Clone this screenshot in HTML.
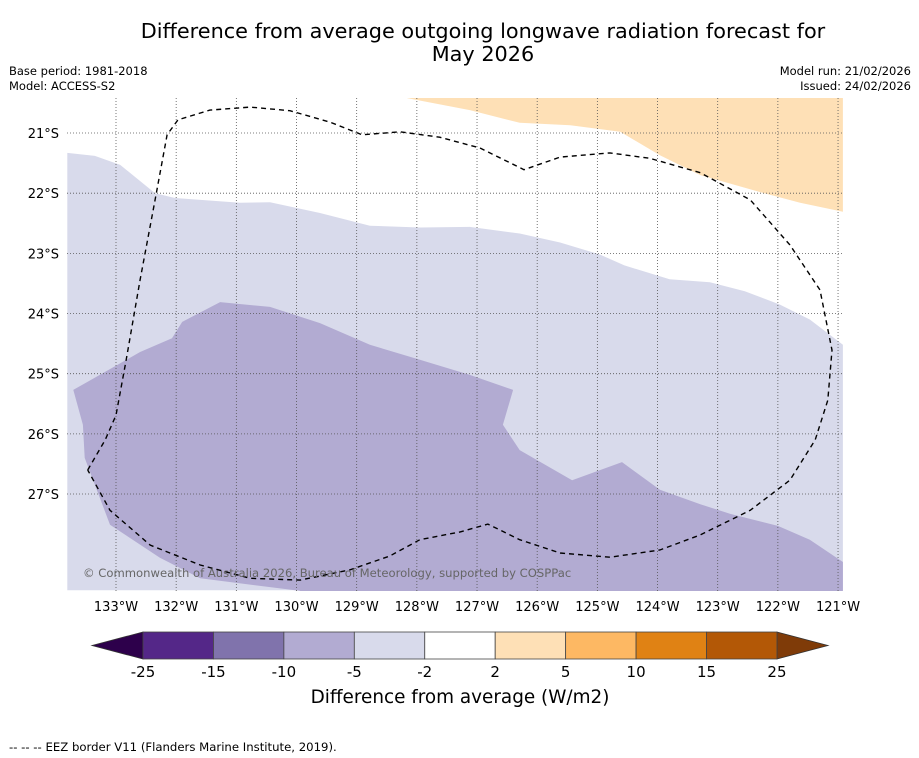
<!DOCTYPE html>
<html><head><meta charset="utf-8">
<style>
html,body{margin:0;padding:0;background:#fff;}
svg{display:block;font-family:"DejaVu Sans","Liberation Sans",sans-serif;}
</style></head>
<body>
<svg id="chart" width="919" height="758" viewBox="0 0 919 758" xmlns="http://www.w3.org/2000/svg">
<text x="483" y="38" font-size="20.8" text-anchor="middle">Difference from average outgoing longwave radiation forecast for</text>
<text x="483" y="61" font-size="20.8" text-anchor="middle">May 2026</text>
<text x="9" y="75" font-size="11.5">Base period: 1981-2018</text>
<text x="9" y="90" font-size="11.5">Model: ACCESS-S2</text>
<text x="911" y="75" font-size="11.5" text-anchor="end">Model run: 21/02/2026</text>
<text x="911" y="90" font-size="11.5" text-anchor="end">Issued: 24/02/2026</text>
<defs><clipPath id="mapclip"><rect x="67" y="98" width="776" height="493"/></clipPath></defs>
<rect x="67" y="98" width="776" height="493" fill="#ffffff"/>
<g id="regions" clip-path="url(#mapclip)"></g>
<g id="grid" clip-path="url(#mapclip)"></g>
<g id="eez" clip-path="url(#mapclip)"></g>
<text x="83" y="577" font-size="11.6" fill="#666">© Commonwealth of Australia 2026, Bureau of Meteorology, supported by COSPPac</text>
<g id="ticks"></g>
<g id="colorbar"></g>
<text x="460" y="703" font-size="18.4" text-anchor="middle">Difference from average (W/m2)</text>
<text x="9" y="751" font-size="11.7">--  --  -- EEZ border V11 (Flanders Marine Institute, 2019).</text>
</svg>
<script>
const lonTicks=[-133,-132,-131,-130,-129,-128,-127,-126,-125,-124,-123,-122,-121];
const latTicks=[-21,-22,-23,-24,-25,-26,-27];
const cbBounds=[-25,-15,-10,-5,-2,2,5,10,15,25];
const cbColors=["#542788","#8073ac","#b2abd2","#d8daeb","#ffffff","#fee0b6","#fdb863","#e08214","#b35806"];
const cbLowColor="#2d004b", cbHighColor="#7f3b08";
const lightRegion=[[-133.81,-21.33],[-133.35,-21.38],[-132.93,-21.53],[-132.35,-22.0],[-132.02,-22.08],[-130.94,-22.16],[-130.44,-22.15],[-129.61,-22.33],[-128.78,-22.54],[-127.95,-22.57],[-127.12,-22.56],[-126.29,-22.67],[-125.62,-22.82],[-124.96,-23.02],[-124.55,-23.2],[-123.80,-23.43],[-123.13,-23.48],[-122.55,-23.63],[-121.97,-23.85],[-121.47,-24.10],[-120.92,-24.52],[-120.92,-28.6],[-133.81,-28.6]];
const mediumRegion=[[-133.71,-25.27],[-133.27,-25.02],[-132.60,-24.64],[-132.07,-24.41],[-131.90,-24.14],[-131.27,-23.81],[-130.44,-23.89],[-129.61,-24.16],[-128.78,-24.52],[-127.95,-24.77],[-127.12,-25.02],[-126.40,-25.27],[-126.57,-25.85],[-126.29,-26.27],[-125.42,-26.77],[-124.59,-26.47],[-123.96,-26.93],[-123.29,-27.17],[-122.79,-27.33],[-122.0,-27.53],[-121.47,-27.76],[-120.92,-28.13],[-120.92,-28.7],[-129.94,-28.7],[-129.94,-28.61],[-131.60,-28.40],[-132.27,-28.06],[-133.10,-27.51],[-133.52,-26.40],[-133.55,-25.85]];
const orangeRegion=[[-128.16,-20.42],[-127.12,-20.62],[-126.29,-20.83],[-125.45,-20.87],[-124.62,-20.98],[-123.96,-21.37],[-123.29,-21.70],[-122.30,-21.98],[-121.63,-22.16],[-120.92,-22.31],[-120.92,-20.3],[-128.3,-20.3]];
const eezLine=[[-133.47,-26.60],[-133.18,-26.10],[-133.0,-25.69],[-132.83,-24.77],[-132.60,-23.44],[-132.35,-22.11],[-132.15,-21.03],[-131.97,-20.78],[-131.44,-20.62],[-130.77,-20.57],[-130.11,-20.63],[-129.44,-20.82],[-128.91,-21.03],[-128.28,-20.98],[-127.62,-21.07],[-126.95,-21.25],[-126.22,-21.61],[-125.62,-21.40],[-124.79,-21.33],[-124.13,-21.42],[-123.29,-21.66],[-122.46,-22.11],[-121.80,-22.86],[-121.30,-23.61],[-121.10,-24.61],[-121.17,-25.44],[-121.38,-26.10],[-121.80,-26.77],[-122.46,-27.27],[-123.29,-27.68],[-123.96,-27.93],[-124.79,-28.05],[-125.62,-27.98],[-126.29,-27.76],[-126.82,-27.50],[-127.28,-27.63],[-127.95,-27.76],[-128.45,-28.03],[-129.11,-28.26],[-129.94,-28.43],[-130.77,-28.40],[-131.60,-28.18],[-132.43,-27.85],[-133.10,-27.27],[-133.47,-26.60]];
const NS="http://www.w3.org/2000/svg";
const x0=116,dx=60.17,y0=133,dy=60.17;
function xs(lon){return x0+(lon+133)*dx;}
function ys(lat){return y0+(-21-lat)*dy;}
function cbx(v){const i=Math.max(0,Math.min(cbBounds.length-2,cbBounds.findIndex((b,k)=>v>=b&&v<=cbBounds[k+1])));return 143+(i+(v-cbBounds[i])/(cbBounds[i+1]-cbBounds[i]))*70.44;}
function mk(tag,attrs,parent){const e=document.createElementNS(NS,tag);for(const k in attrs)e.setAttribute(k,attrs[k]);parent.appendChild(e);return e;}
function pts(arr){return arr.map(p=>xs(p[0]).toFixed(1)+","+ys(p[1]).toFixed(1)).join(" ");}
const reg=document.getElementById("regions");
let e=mk("polygon",{points:pts(lightRegion),fill:"#d8daeb"},reg);


e=mk("polygon",{points:pts(mediumRegion),fill:"#b2abd2"},reg);


e=mk("polygon",{points:pts(orangeRegion),fill:"#fee0b6"},reg);


const grid=document.getElementById("grid");
lonTicks.forEach(l=>{const g=mk("line",{x1:xs(l),x2:xs(l),y1:98,y2:591,stroke:"#555","stroke-width":0.8,"stroke-dasharray":"1,2"},grid);

});
latTicks.forEach(l=>{const g=mk("line",{x1:67,x2:843,y1:ys(l),y2:ys(l),stroke:"#555","stroke-width":0.8,"stroke-dasharray":"1,2"},grid);

});
e=mk("polyline",{points:pts(eezLine),fill:"none",stroke:"#000","stroke-width":1.4,"stroke-dasharray":"5,4"},document.getElementById("eez"));


const tk=document.getElementById("ticks");
lonTicks.forEach(l=>{const t=mk("text",{x:xs(l),y:611,"font-size":13,"text-anchor":"middle"},tk);t.textContent=Math.abs(l)+"°W";

});
latTicks.forEach(l=>{const t=mk("text",{x:59,y:ys(l)+5,"font-size":13,"text-anchor":"end"},tk);t.textContent=Math.abs(l)+"°S";

});
const cb=document.getElementById("colorbar");
const cy1=632,cy2=659,cm=(cy1+cy2)/2;
e=mk("polygon",{points:`92,${cm} ${cbx(cbBounds[0])},${cy1} ${cbx(cbBounds[0])},${cy2}`,fill:cbLowColor,stroke:"#333","stroke-width":0.8},cb);


const last=cbBounds[cbBounds.length-1];
e=mk("polygon",{points:`828,${cm} ${cbx(last)},${cy1} ${cbx(last)},${cy2}`,fill:cbHighColor,stroke:"#333","stroke-width":0.8},cb);


cbColors.forEach((c,i)=>{const r=mk("rect",{x:cbx(cbBounds[i]),y:cy1,width:cbx(cbBounds[i+1])-cbx(cbBounds[i]),height:cy2-cy1,fill:c,stroke:"#444","stroke-width":0.8},cb);

});
cbBounds.forEach(v=>{const t=mk("text",{x:cbx(v),y:677,"font-size":15,"text-anchor":"middle"},cb);t.textContent=v;

});
</script>
</body></html>
